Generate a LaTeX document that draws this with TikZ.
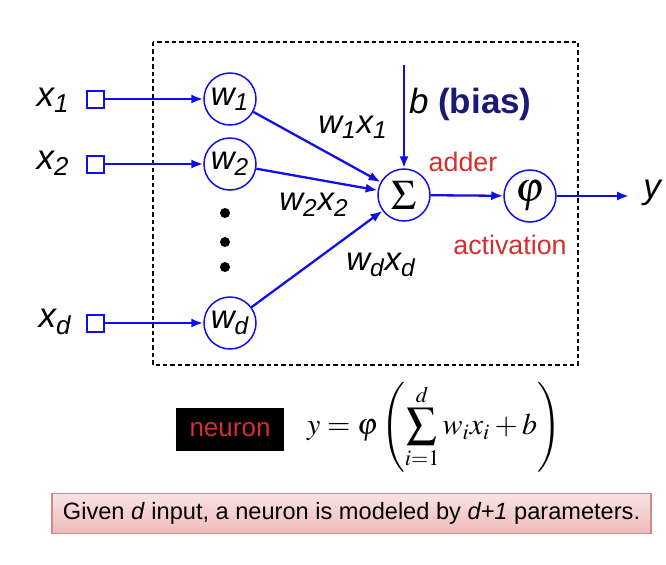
\documentclass[tikz,border=0pt]{standalone}
\usepackage{mathptmx}
\usepackage{fontspec}
\setmainfont{Liberation Sans}
\usepackage{tikz}
\usetikzlibrary{arrows.meta, positioning}
\definecolor{wireblue}{RGB}{15, 15, 235}
\definecolor{biasnavy}{RGB}{25, 25, 120}
\definecolor{labelred}{RGB}{215, 45, 45}
\definecolor{pinktop}{RGB}{250, 228, 228}
\definecolor{pinkbot}{RGB}{240, 185, 185}
\definecolor{pinkedge}{RGB}{205, 140, 140}

\begin{document}
\begin{tikzpicture}[x=0.5pt, y=-0.5pt,
  unit/.style={circle, draw=wireblue, line width=0.75pt, minimum size=26pt, inner sep=0pt},
  port/.style={draw=wireblue, line width=1pt, minimum size=8.5pt, inner sep=0pt},
  wire/.style={draw=wireblue, line width=1.15pt, -{Latex[length=6pt, width=4.6pt]}},
  invar/.style={font=\fontsize{17.5}{19}\selectfont\itshape},
  prod/.style={font=\fontsize{16.5}{18}\selectfont\itshape},
  tag/.style={font=\fontsize{13.4}{15}\selectfont, text=labelred}]
  \useasboundingbox (0,0) rectangle (666,564);

  % Neuron frame
  \draw[line width=0.6pt, dash pattern=on 2.2pt off 1.5pt] (153,42) rectangle (578,365);

  % Inputs
  \node[invar] (x1) at (53,100) {x\textsubscript{1}};
  \node[invar] (x2) at (53,163) {x\textsubscript{2}};
  \node[invar] (xd) at (55,322) {x\textsubscript{d}};
  \node[port] (p1) at (95,99) {};
  \node[port] (p2) at (95,164) {};
  \node[port] (pd) at (95,323) {};

  % Weights
  \node[unit, font=\fontsize{16.5}{18}\selectfont\itshape] (w1) at (230,99) {w\textsubscript{1}};
  \node[unit, font=\fontsize{16.5}{18}\selectfont\itshape] (w2) at (230,164) {w\textsubscript{2}};
  \node[unit, font=\fontsize{16.5}{18}\selectfont\itshape] (wd) at (230,323) {w\textsubscript{d}};
  \foreach \dy in {213, 242, 267}
    \fill (225,\dy) circle (2.5pt);

  % Adder and activation
  \node[unit, font=\fontsize{21}{22}\selectfont] (sum) at (404,195) {$\Sigma$};
  \node[unit, font=\fontsize{21}{22}\selectfont] (act) at (530,196) {$\varphi$};
  \coordinate (bin) at (404,65);
  \coordinate (yout) at (629,196);
  \node[invar] (y) at (652,193) {y};

  \draw[wire] (p1) -- (w1);
  \draw[wire] (p2) -- (w2);
  \draw[wire] (pd) -- (wd);
  \draw[wire] (w1) -- (sum);
  \draw[wire] (w2) -- (sum);
  \draw[wire] (wd) -- (sum);
  \draw[wire] (bin) -- (sum);
  \draw[wire] (sum) -- (act);
  \draw[wire] (act) -- (yout);

  \node[prod] (l1) at (353,127) {w\textsubscript{1}x\textsubscript{1}};
  \node[prod] (l2) at (314,205) {w\textsubscript{2}x\textsubscript{2}};
  \node[prod] (ld) at (381,265) {w\textsubscript{d}x\textsubscript{d}};
  \node[anchor=west, font=\fontsize{17.5}{19}\selectfont] (bias) at (402,104)
    {\textit{b} \textbf{\textcolor{biasnavy}{(bias)}}};
  \node[tag] (adder) at (463,162) {adder};
  \node[tag] (actlab) at (510,245) {activation};

  % Formula
  \node[fill=black, text=labelred, minimum width=54pt, minimum height=21.5pt,
    font=\fontsize{13}{15}\selectfont] (neuron) at (230,429.5) {neuron};
  \node[font=\fontsize{15}{17}\selectfont] (formula) at (434,427)
    {$\displaystyle y=\varphi\left(\sum_{i=1}^{d} w_i x_i + b\right)$};

  % Note
  \node[draw=pinkedge, line width=0.6pt, top color=pinktop, bottom color=pinkbot,
    minimum width=299.5pt, minimum height=20pt, font=\fontsize{11.8}{13}\selectfont] (note) at (351.5,513.5)
    {Given \textit{d} input, a neuron is modeled by \textit{d+1} parameters.};
\end{tikzpicture}
\end{document}
